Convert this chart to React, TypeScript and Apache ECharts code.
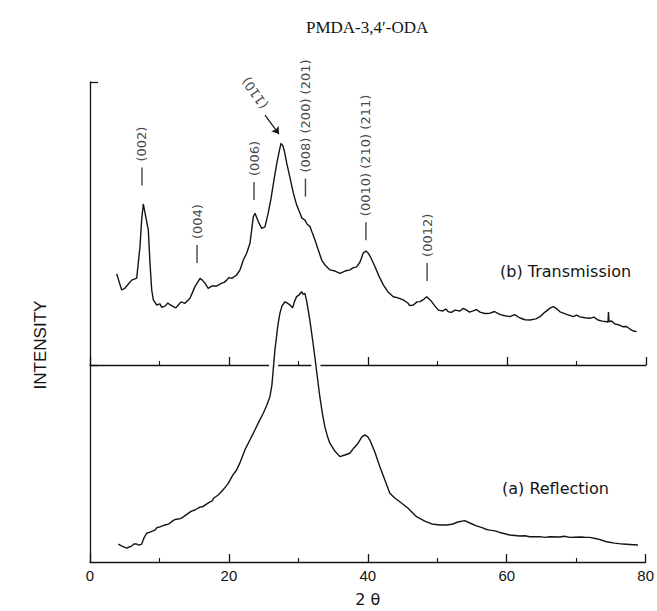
import { useEffect, useRef } from "react";
import * as echarts from "echarts";

// (b) Transmission pattern: 2θ (deg) and intensity (arbitrary units, upper panel)
const transTheta = [
  3.84, 4.56, 5.04, 6.0, 6.72, 7.19, 7.43, 7.67, 8.39, 8.63, 8.88, 9.11, 9.6, 10.07, 10.3, 10.79,
  11.2, 11.51, 11.99, 12.35, 12.7, 13.1, 13.67, 14.39, 15.1, 15.83, 16.16, 16.55, 17.0, 17.51,
  18.23, 18.95, 19.3, 19.67, 20.0, 20.39, 21.1, 21.58, 22.06, 22.54, 23.02, 23.5, 23.74, 24.22,
  24.7, 25.18, 25.61, 26.04, 26.47, 26.91, 27.27, 27.48, 27.77, 27.99, 28.3, 28.78, 29.25, 29.74,
  30.22, 30.5, 30.94, 31.22, 31.65, 32.0, 32.37, 32.85, 33.34, 33.81, 34.53, 35.25, 35.97, 36.69,
  37.41, 37.84, 38.37, 38.85, 39.32, 39.71, 40.04, 40.43, 41.01, 41.58, 42.2, 42.88, 43.64,
  44.32, 45.04, 45.7, 46.0, 46.52, 47.05, 47.48, 48.06, 48.45, 48.78, 49.16, 49.64, 50.12, 50.79,
  51.2, 51.55, 52.0, 52.52, 53.24, 53.7, 54.2, 54.6, 55.11, 55.6, 56.12, 56.8, 57.55, 58.2, 59.0,
  59.7, 60.43, 61.1, 61.87, 62.6, 63.31, 64.17, 64.75, 65.47, 66.19, 66.66, 67.19, 67.63, 68.49,
  69.54, 70.0, 70.5, 71.2, 71.94, 72.5, 73.09, 73.7, 74.35, 74.53, 74.6, 74.68, 75.0, 75.54,
  76.1, 76.73, 77.2, 77.7, 78.2, 78.66,
];
const transIntensity = [
  32.2, 26.5, 27.2, 30.0, 30.7, 41.8, 51.2, 56.9, 47.7, 36.0, 26.5, 23.0, 21.2, 21.6, 20.4, 20.8,
  21.9, 21.3, 20.6, 20.2, 21.2, 22.3, 21.8, 23.6, 27.7, 30.6, 30.0, 28.9, 27.1, 27.9,
  27.9, 28.9, 29.2, 30.0, 30.9, 30.6, 31.8, 33.6, 37.1, 39.5, 43.0, 52.4, 53.6, 50.6,
  48.3, 48.8, 53.4, 58.7, 65.4, 71.7, 76.0, 78.3, 77.4, 75.3, 71.4, 66.1, 60.8, 56.5,
  53.6, 51.9, 51.2, 49.8, 48.9, 46.6, 44.2, 40.6, 37.1, 35.3, 33.6, 33.2, 32.4, 33.2,
  33.6, 34.3, 34.7, 36.4, 39.6, 40.3, 39.5, 37.8, 34.7, 31.4, 28.3, 25.8, 24.1,
  23.7, 23.0, 22.0, 21.0, 21.2, 22.3, 22.4, 23.3, 24.1, 23.3, 22.4, 20.8, 19.4, 19.1,
  19.8, 18.8, 18.6, 19.4, 19.1, 20.0, 19.4, 18.7, 19.1, 19.6, 18.7, 18.2, 18.3, 18.9, 17.8,
  17.4, 17.1, 17.8, 16.6, 16.0, 15.9, 16.3, 17.1, 18.7, 20.1, 20.6, 19.8, 18.8, 18.0,
  17.1, 17.6, 17.0, 16.7, 16.5, 16.9, 15.9, 15.5, 15.3, 15.2, 18.7, 15.2, 15.6, 14.5,
  14.2, 13.5, 13.6, 12.7, 12.0, 11.8,
];

// (a) Reflection pattern: 2θ (deg) and intensity (arbitrary units, lower panel)
const reflTheta = [
  4.07, 4.6, 5.28, 5.61, 6.0, 6.33, 6.72, 7.05, 7.44, 7.77, 8.16, 8.63, 9.35, 9.7, 10.07, 10.79,
  11.3, 11.76, 12.2, 12.66, 13.0, 13.38, 14.14, 14.6, 15.11, 15.83, 16.2, 16.55, 17.27, 17.55,
  17.84, 18.46, 19.14, 19.9, 20.58, 21.11, 21.58, 22.3, 23.02, 23.5, 24.17, 24.94, 25.47, 25.9,
  26.19, 26.38, 26.62, 26.86, 27.05, 27.34, 27.63, 28.06, 28.35, 28.78, 29.17, 29.42, 29.74,
  30.07, 30.46, 30.65, 30.94, 31.22, 31.65, 32.01, 32.37, 32.73, 33.09, 33.45, 33.81, 34.17,
  34.53, 35.25, 35.97, 36.69, 37.41, 37.99, 38.6, 39.14, 39.57, 40.0, 40.29, 41.01, 41.73,
  42.45, 43.17, 43.88, 44.6, 45.76, 47.01, 48.2, 49.21, 50.36, 51.37, 52.27, 52.95, 53.96,
  54.68, 55.64, 56.55, 57.0, 57.55, 58.3, 59.0, 60.43, 61.87, 62.6, 63.31, 64.75, 65.5, 66.19,
  67.63, 68.3, 69.06, 70.5, 71.2, 71.94, 73.09, 74.35, 75.54, 76.73, 77.7, 78.89,
];
const reflIntensity = [
  9.1, 8.1, 7.0, 7.6, 8.1, 9.1, 9.1, 8.6, 9.1, 12.2, 14.6, 15.2, 16.2, 17.6, 17.8, 18.8,
  19.2, 20.5, 21.5, 21.8, 22.0, 22.8, 24.7, 25.8, 26.4, 27.9, 28.0, 28.9, 30.5, 30.9,
  32.5, 34.0, 36.5, 39.9, 44.2, 46.7, 50.3, 56.9, 61.9, 65.3, 70.1, 75.5, 79.7, 83.9,
  89.8, 97.5, 107.6, 114.4, 120.3, 126.2, 129.9, 132.1, 131.5, 130.5, 129.0, 132.0, 134.7,
  135.5, 137.2, 136.0, 136.4, 132.0, 122.8, 113.7, 104.2, 93.9, 83.9, 75.6, 68.7, 64.0,
  60.3, 56.3, 53.5, 54.3, 55.2, 57.9, 60.3, 63.5, 64.5, 63.5, 61.9, 55.8, 48.4,
  41.6, 34.9, 32.5, 30.6, 27.4, 23.0, 20.8, 19.3, 18.8, 18.8, 19.3, 20.3, 21.0,
  19.8, 18.3, 17.3, 16.6, 16.2, 15.8, 15.0, 13.7, 13.2, 13.3, 12.8, 12.9, 12.5, 12.8,
  12.7, 13.1, 12.5, 12.7, 12.6, 12.5, 11.7, 10.3, 9.6, 9.1, 8.9, 8.6,
];

// Reflection indices marked on the transmission pattern (tick position in 2θ / intensity)
const peakNames = ["(002)", "(004)", "(006)", "(008) (200) (201)", "(0010) (210) (211)", "(0012)"];
const peakTheta = [7.48, 15.4, 23.6, 31.0, 39.7, 48.5];
const peakMarkLevel = [66.6, 39.2, 61.5, 62.7, 47.3, 32.9];

// Arrowed index pointing at the main transmission peak
const arrowName = "(110)";
const arrowLabelAt = [23.74, 96.1];
const arrowFrom = [25.18, 88.3];
const arrowTo = [27.19, 81.6];

const X_MIN = 0;
const X_MAX = 80;
const X_STEP = 20;

const INK = "#141414";
const SANS = "'DejaVu Sans', sans-serif";

const zip = (xs: number[], ys: number[]) => xs.map((x, i) => [x, ys[i]]);

export default function App() {
  const ref = useRef<HTMLDivElement>(null);

  useEffect(() => {
    if (!ref.current) return;
    const chart = echarts.init(ref.current, null, { renderer: "svg" });

    // Both baselines share the 2θ scale; ticks point into the plot, longer every 20°.
    const xAxisFor = (gridIndex: number, withLabels: boolean) => ({
      type: "value",
      gridIndex,
      min: X_MIN,
      max: X_MAX,
      interval: X_STEP,
      axisLine: { show: true, onZero: false, lineStyle: { color: INK, width: 1.3 } },
      axisTick: { show: true, inside: true, length: 8, lineStyle: { color: INK, width: 1.3 } },
      minorTick: { show: true, splitNumber: 2, length: 4, lineStyle: { color: INK, width: 1.1 } },
      splitLine: { show: false },
      axisLabel: {
        show: withLabels,
        margin: 6,
        color: INK,
        fontSize: 15,
        fontFamily: "'Liberation Sans', sans-serif",
      },
      name: withLabels ? "2 θ" : "",
      nameLocation: "middle",
      nameGap: 29,
      nameTextStyle: { color: INK, fontSize: 16, fontFamily: SANS },
    });

    const reflData = zip(reflTheta, reflIntensity);
    const transData = zip(transTheta, transIntensity);

    const option: any = {
      animation: false,
      backgroundColor: "#ffffff",
      title: {
        text: "PMDA-3,4′-ODA",
        left: 301,
        top: 14,
        textStyle: {
          fontFamily: "'Liberation Serif', serif",
          fontSize: 17,
          fontWeight: "normal",
          color: INK,
        },
      },
      grid: [
        { left: 90, right: 11, top: 82, height: 283 },
        { left: 90, right: 11, top: 365, height: 197 },
      ],
      xAxis: [xAxisFor(0, false), xAxisFor(1, true)],
      yAxis: [
        {
          type: "value",
          gridIndex: 0,
          min: 0,
          max: 100,
          interval: 100,
          axisLine: { show: true, lineStyle: { color: INK, width: 1.3 } },
          axisTick: { show: true, inside: true, length: 8, lineStyle: { color: INK, width: 1.3 } },
          axisLabel: { show: false },
          splitLine: { show: false },
        },
        {
          type: "value",
          gridIndex: 1,
          min: 0,
          max: 100,
          interval: 100,
          axisLine: { show: true, lineStyle: { color: INK, width: 1.3 } },
          axisTick: { show: false },
          axisLabel: { show: false },
          splitLine: { show: false },
        },
      ],
      series: [
        {
          // white underlay so the baseline breaks where the reflection trace crosses it
          type: "line",
          xAxisIndex: 1,
          yAxisIndex: 1,
          data: reflData,
          clip: false,
          showSymbol: false,
          silent: true,
          z: 1,
          lineStyle: { color: "#ffffff", width: 9 },
        },
        {
          name: "(a) Reflection",
          type: "line",
          xAxisIndex: 1,
          yAxisIndex: 1,
          data: reflData,
          clip: false,
          showSymbol: false,
          z: 3,
          lineStyle: { color: INK, width: 1.4 },
        },
        {
          name: "(b) Transmission",
          type: "line",
          xAxisIndex: 0,
          yAxisIndex: 0,
          data: transData,
          showSymbol: false,
          z: 3,
          lineStyle: { color: INK, width: 1.4 },
        },
        {
          type: "scatter",
          xAxisIndex: 0,
          yAxisIndex: 0,
          symbol: "rect",
          symbolSize: [1.4, 18],
          itemStyle: { color: INK },
          z: 4,
          data: peakNames.map((n, i) => ({ name: n, value: [peakTheta[i], peakMarkLevel[i]] })),
          label: {
            show: true,
            formatter: "{b}",
            position: "top",
            distance: 6,
            rotate: 90,
            align: "left",
            verticalAlign: "middle",
            color: INK,
            fontSize: 13,
            fontFamily: SANS,
          },
        },
        {
          type: "scatter",
          xAxisIndex: 0,
          yAxisIndex: 0,
          symbol: "circle",
          symbolSize: 0,
          z: 4,
          data: [{ name: arrowName, value: arrowLabelAt }],
          label: {
            show: true,
            formatter: "{b}",
            position: "inside",
            rotate: 125,
            align: "center",
            verticalAlign: "middle",
            color: INK,
            fontSize: 13,
            fontFamily: SANS,
          },
          markLine: {
            silent: true,
            symbol: ["none", "arrow"],
            symbolSize: 7,
            label: { show: false },
            lineStyle: { color: INK, width: 1.2, type: "solid" },
            data: [[{ coord: arrowFrom }, { coord: arrowTo }]],
          },
        },
      ],
      graphic: [
        {
          type: "text",
          x: 40,
          y: 345,
          rotation: Math.PI / 2,
          style: {
            text: "INTENSITY",
            fill: INK,
            font: "17px 'Liberation Sans', sans-serif",
            align: "center",
            verticalAlign: "middle",
          },
        },
        {
          type: "text",
          x: 500,
          y: 271,
          style: {
            text: "(b) Transmission",
            fill: INK,
            font: `16px ${SANS}`,
            align: "left",
            verticalAlign: "middle",
          },
        },
        {
          type: "text",
          x: 502,
          y: 488,
          style: {
            text: "(a) Reflection",
            fill: INK,
            font: `16px ${SANS}`,
            align: "left",
            verticalAlign: "middle",
          },
        },
      ],
    };

    chart.setOption(option);
    return () => chart.dispose();
  }, []);

  return (
    <div
      ref={ref}
      style={{ position: "absolute", left: 0, top: 0, width: 657, height: 611, background: "#fff" }}
    />
  );
}
